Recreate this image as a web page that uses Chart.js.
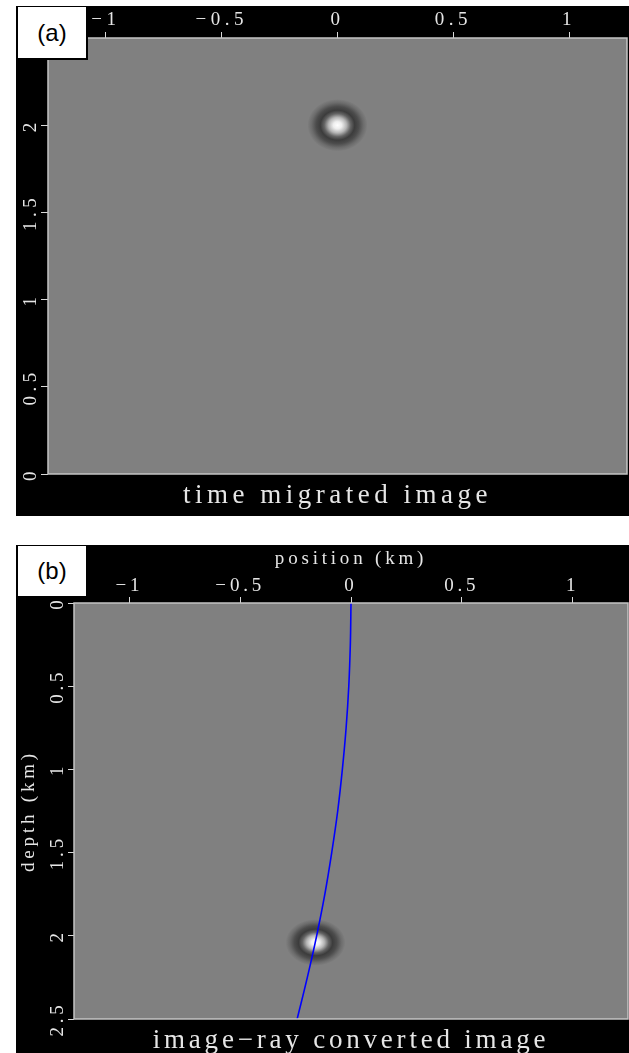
<!DOCTYPE html>
<html>
<head>
<meta charset="utf-8">
<script src="https://cdn.jsdelivr.net/npm/chart.js"></script>
<style>
  html, body { margin: 0; padding: 0; background: #fff; overflow: hidden; }
  .panel { position: absolute; left: 16px; width: 613px; background: #000; overflow: hidden; }
  .panel canvas { display: block; background: #000; }
  .tag {
    position: absolute; left: 17px; width: 71px; box-sizing: border-box;
    background: #fff; border: 1px solid #000; border-right-width: 2px; border-bottom-width: 2px;
    font: 24px 'Liberation Sans', Arial, sans-serif; color: #000;
    display: flex; align-items: center; justify-content: center; z-index: 2;
  }
</style>
</head>
<body>
<div class="panel" style="top:6px;height:510px"><canvas id="chartA" width="613" height="510"></canvas></div>
<div class="tag" style="top:6px;height:54px">(a)</div>
<div class="panel" style="top:545px;height:508px"><canvas id="chartB" width="613" height="512"></canvas></div>
<div class="tag" style="top:545px;height:53px">(b)</div>
<script>
// tick labels (km)
const xTicks = [-1, -0.5, 0, 0.5, 1];
const yTicks = [0, 0.5, 1, 1.5, 2, 2.5];

// (a) time migrated image: wavelet centre and half extent
const blobAX = [0];
const blobAY = [2.0];
const blobARx = 0.13;
const blobARy = 0.15;

// (b) image-ray converted image: wavelet centre and half extent
const blobBX = [-0.16];
const blobBY = [2.04];
const blobBRx = 0.135;
const blobBRy = 0.14;

// (b) image ray
const rayDepth = [0, 0.25, 0.5, 0.75, 1.0, 1.25, 1.5, 1.75, 2.0, 2.25, 2.5];
const rayX = [0, -0.003, -0.01, -0.022, -0.039, -0.06, -0.087, -0.118, -0.155, -0.197, -0.243];

const serif = "'Liberation Serif', 'Times New Roman', serif";
const ink = '#e6e6e6';

const fmt = v => v < 0 ? '\u2212' + Math.abs(v) : String(v);

// grey image area, light frame, wide letter spacing for the plot lettering
const frame = {
  id: 'frame',
  defaults: {spacing: '4.5px'},
  beforeLayout(chart, args, opts) { chart.ctx.letterSpacing = opts.spacing; },
  beforeDraw(chart, args, opts) {
    const {ctx, chartArea: a} = chart;
    ctx.letterSpacing = opts.spacing;
    ctx.save();
    ctx.fillStyle = '#808080';
    ctx.fillRect(a.left, a.top, a.width, a.height);
    ctx.restore();
  },
  afterDraw(chart) {
    const {ctx, chartArea: a} = chart;
    ctx.save();
    ctx.strokeStyle = '#c4c4c4';
    ctx.lineWidth = 1.5;
    ctx.strokeRect(a.left, a.top, a.width, a.height);
    ctx.restore();
  }
};

// draws each point of a "wavelet" dataset as a soft ring-shaped blob
const wavelet = {
  id: 'wavelet',
  beforeDatasetsDraw(chart) {
    const {ctx, chartArea: a, scales: {x, y}} = chart;
    chart.data.datasets.forEach(ds => {
      if (!ds.wavelet) return;
      ds.data.forEach(p => {
        const cx = x.getPixelForValue(p.x);
        const cy = y.getPixelForValue(p.y);
        const rx = Math.abs(x.getPixelForValue(p.x + ds.wavelet.rx) - cx);
        const ry = Math.abs(y.getPixelForValue(p.y + ds.wavelet.ry) - cy);
        ctx.save();
        ctx.beginPath();
        ctx.rect(a.left, a.top, a.width, a.height);
        ctx.clip();
        ctx.translate(cx, cy);
        ctx.scale(rx, ry);
        const g = ctx.createRadialGradient(0, 0, 0, 0, 0, 1);
        g.addColorStop(0, '#ffffff');
        g.addColorStop(0.14, '#eeeeee');
        g.addColorStop(0.3, '#b4b4b4');
        g.addColorStop(0.44, '#646464');
        g.addColorStop(0.57, '#3c3c3c');
        g.addColorStop(0.71, '#4c4c4c');
        g.addColorStop(0.86, '#6c6c6c');
        g.addColorStop(1, '#808080');
        ctx.fillStyle = g;
        ctx.beginPath();
        ctx.arc(0, 0, 1, 0, Math.PI * 2);
        ctx.fill();
        ctx.restore();
      });
    });
  }
};

function xScale(height, pad, title) {
  return {
    type: 'linear',
    position: 'top',
    min: -1.25,
    max: 1.25,
    afterBuildTicks: s => { s.ticks = xTicks.map(v => ({value: v})); },
    afterFit: s => { s.height = height; },
    ticks: {autoSkip: false, maxRotation: 0, padding: pad, color: ink, font: {family: serif, size: 19}, callback: fmt},
    grid: {drawOnChartArea: false, drawTicks: true, tickLength: 6, color: '#d8d8d8'},
    border: {display: false},
    title: title ? {display: true, text: title, color: ink, font: {family: serif, size: 19}, padding: {top: 3, bottom: 0}} : {display: false}
  };
}

function yScale(width, tl, pad, reverse, title) {
  return {
    type: 'linear',
    position: 'left',
    min: 0,
    max: 2.5,
    reverse: reverse,
    afterBuildTicks: s => { s.ticks = yTicks.map(v => ({value: v})); },
    afterFit: s => { s.width = width; },
    ticks: {autoSkip: false, minRotation: 90, maxRotation: 90, crossAlign: 'center', padding: pad, color: ink, font: {family: serif, size: 19}, callback: fmt},
    grid: {drawOnChartArea: false, drawTicks: true, tickLength: tl, color: '#d8d8d8'},
    border: {display: false},
    title: title ? {display: true, text: title, color: ink, font: {family: serif, size: 19}, padding: {top: 2, bottom: 0}} : {display: false}
  };
}

function bottomTitle(text, padBottom) {
  return {
    display: true,
    position: 'bottom',
    fullSize: false,
    text: text,
    color: ink,
    font: {family: serif, size: 27, weight: 'normal', lineHeight: 1.2},
    padding: {top: 6, bottom: padBottom}
  };
}

new Chart(document.getElementById('chartA'), {
  type: 'scatter',
  data: {
    datasets: [{
      data: blobAX.map((v, i) => ({x: v, y: blobAY[i]})),
      pointRadius: 0,
      wavelet: {rx: blobARx, ry: blobARy}
    }]
  },
  options: {
    responsive: false,
    animation: false,
    layout: {padding: {right: 2}},
    scales: {x: xScale(32, 1), y: yScale(32, 7, -9, false)},
    plugins: {
      legend: {display: false},
      tooltip: {enabled: false},
      title: bottomTitle('time migrated image', 3.6),
      frame: {spacing: '4.5px'}
    }
  },
  plugins: [frame, wavelet]
});

new Chart(document.getElementById('chartB'), {
  type: 'scatter',
  data: {
    datasets: [{
      data: rayX.map((v, i) => ({x: v, y: rayDepth[i]})),
      showLine: true,
      borderColor: '#0000ff',
      borderWidth: 1.6,
      pointRadius: 0,
      tension: 0.4
    }, {
      data: blobBX.map((v, i) => ({x: v, y: blobBY[i]})),
      pointRadius: 0,
      wavelet: {rx: blobBRx, ry: blobBRy}
    }]
  },
  options: {
    responsive: false,
    animation: false,
    layout: {padding: {right: 1}},
    scales: {x: xScale(58, 0, 'position (km)'), y: yScale(58, 6, -8, true, 'depth (km)')},
    plugins: {
      legend: {display: false},
      tooltip: {enabled: false},
      title: bottomTitle('image\u2212ray converted image', -0.4),
      frame: {spacing: '3.8px'}
    }
  },
  plugins: [frame, wavelet]
});
</script>
</body>
</html>
